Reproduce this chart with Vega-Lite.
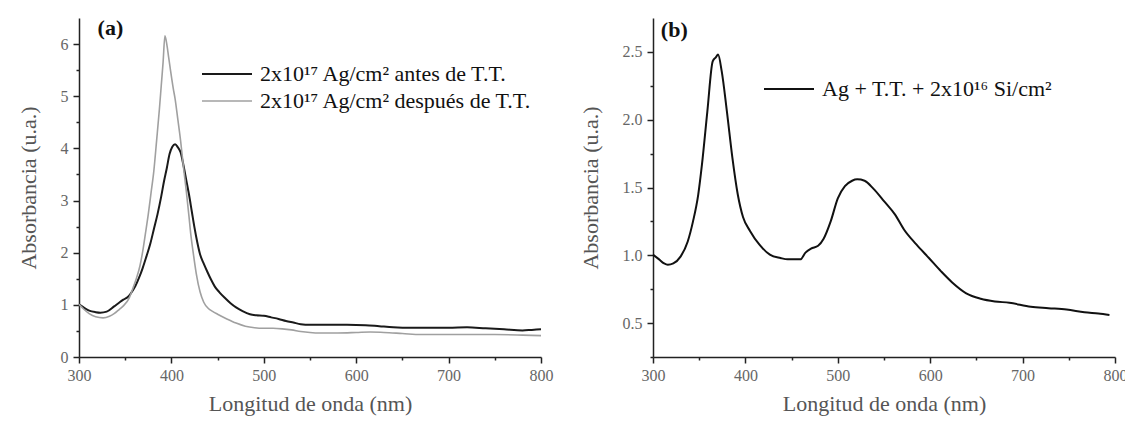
{
  "$schema": "https://vega.github.io/schema/vega-lite/v6.json",
  "padding": {"left": 17, "top": 17, "right": 0, "bottom": 5},
  "spacing": 26,
  "background": "white",
  "config": {
    "view": {"stroke": null},
    "font": "Liberation Serif",
    "axis": {
      "grid": false,
      "domainColor": "#222",
      "domainWidth": 1.5,
      "tickColor": "#222",
      "tickWidth": 1.5,
      "tickCount": 40,
      "labelFont": "Liberation Serif",
      "labelFontSize": 16,
      "labelColor": "#666",
      "labelPadding": 5,
      "labelFlush": false,
      "labelOverlap": false,
      "titleFont": "Liberation Serif",
      "titleFontSize": 22,
      "titleFontWeight": "normal",
      "titleColor": "#555",
      "titlePadding": 20
    },
    "axisX": {"titlePadding": 10, "labelPadding": 4},
    "legend": {
      "orient": "none",
      "title": null,
      "padding": 0,
      "labelFont": "Liberation Serif",
      "labelFontSize": 22,
      "labelLimit": 0,
      "labelColor": "#111",
      "symbolType": "M-5,0H5",
      "symbolSize": 100,
      "symbolStrokeWidth": 2,
      "symbolFillColor": "transparent",
      "rowPadding": 5
    }
  },
  "datasets": {
    "a": [
      {"serie": "2x10¹⁷ Ag/cm² antes de T.T.", "nm": 300, "abs": 1.01},
      {"serie": "2x10¹⁷ Ag/cm² antes de T.T.", "nm": 305, "abs": 0.95},
      {"serie": "2x10¹⁷ Ag/cm² antes de T.T.", "nm": 311, "abs": 0.89},
      {"serie": "2x10¹⁷ Ag/cm² antes de T.T.", "nm": 318, "abs": 0.86},
      {"serie": "2x10¹⁷ Ag/cm² antes de T.T.", "nm": 323, "abs": 0.85},
      {"serie": "2x10¹⁷ Ag/cm² antes de T.T.", "nm": 330, "abs": 0.87},
      {"serie": "2x10¹⁷ Ag/cm² antes de T.T.", "nm": 338, "abs": 0.97},
      {"serie": "2x10¹⁷ Ag/cm² antes de T.T.", "nm": 344, "abs": 1.05},
      {"serie": "2x10¹⁷ Ag/cm² antes de T.T.", "nm": 348, "abs": 1.10},
      {"serie": "2x10¹⁷ Ag/cm² antes de T.T.", "nm": 354, "abs": 1.17},
      {"serie": "2x10¹⁷ Ag/cm² antes de T.T.", "nm": 358, "abs": 1.27},
      {"serie": "2x10¹⁷ Ag/cm² antes de T.T.", "nm": 361, "abs": 1.36},
      {"serie": "2x10¹⁷ Ag/cm² antes de T.T.", "nm": 365, "abs": 1.52},
      {"serie": "2x10¹⁷ Ag/cm² antes de T.T.", "nm": 369, "abs": 1.71},
      {"serie": "2x10¹⁷ Ag/cm² antes de T.T.", "nm": 373, "abs": 1.93},
      {"serie": "2x10¹⁷ Ag/cm² antes de T.T.", "nm": 377, "abs": 2.16},
      {"serie": "2x10¹⁷ Ag/cm² antes de T.T.", "nm": 381, "abs": 2.45},
      {"serie": "2x10¹⁷ Ag/cm² antes de T.T.", "nm": 385, "abs": 2.74},
      {"serie": "2x10¹⁷ Ag/cm² antes de T.T.", "nm": 389, "abs": 3.08},
      {"serie": "2x10¹⁷ Ag/cm² antes de T.T.", "nm": 392, "abs": 3.37},
      {"serie": "2x10¹⁷ Ag/cm² antes de T.T.", "nm": 395, "abs": 3.62},
      {"serie": "2x10¹⁷ Ag/cm² antes de T.T.", "nm": 398, "abs": 3.89},
      {"serie": "2x10¹⁷ Ag/cm² antes de T.T.", "nm": 401, "abs": 4.03},
      {"serie": "2x10¹⁷ Ag/cm² antes de T.T.", "nm": 404, "abs": 4.08},
      {"serie": "2x10¹⁷ Ag/cm² antes de T.T.", "nm": 407, "abs": 4.02},
      {"serie": "2x10¹⁷ Ag/cm² antes de T.T.", "nm": 410, "abs": 3.92},
      {"serie": "2x10¹⁷ Ag/cm² antes de T.T.", "nm": 413, "abs": 3.68},
      {"serie": "2x10¹⁷ Ag/cm² antes de T.T.", "nm": 416, "abs": 3.40},
      {"serie": "2x10¹⁷ Ag/cm² antes de T.T.", "nm": 419, "abs": 3.12},
      {"serie": "2x10¹⁷ Ag/cm² antes de T.T.", "nm": 422, "abs": 2.80},
      {"serie": "2x10¹⁷ Ag/cm² antes de T.T.", "nm": 425, "abs": 2.48},
      {"serie": "2x10¹⁷ Ag/cm² antes de T.T.", "nm": 428, "abs": 2.20},
      {"serie": "2x10¹⁷ Ag/cm² antes de T.T.", "nm": 431, "abs": 1.97},
      {"serie": "2x10¹⁷ Ag/cm² antes de T.T.", "nm": 435, "abs": 1.79},
      {"serie": "2x10¹⁷ Ag/cm² antes de T.T.", "nm": 439, "abs": 1.63},
      {"serie": "2x10¹⁷ Ag/cm² antes de T.T.", "nm": 443, "abs": 1.48},
      {"serie": "2x10¹⁷ Ag/cm² antes de T.T.", "nm": 447, "abs": 1.35},
      {"serie": "2x10¹⁷ Ag/cm² antes de T.T.", "nm": 452, "abs": 1.24},
      {"serie": "2x10¹⁷ Ag/cm² antes de T.T.", "nm": 458, "abs": 1.13},
      {"serie": "2x10¹⁷ Ag/cm² antes de T.T.", "nm": 464, "abs": 1.03},
      {"serie": "2x10¹⁷ Ag/cm² antes de T.T.", "nm": 470, "abs": 0.95},
      {"serie": "2x10¹⁷ Ag/cm² antes de T.T.", "nm": 477, "abs": 0.88},
      {"serie": "2x10¹⁷ Ag/cm² antes de T.T.", "nm": 485, "abs": 0.82},
      {"serie": "2x10¹⁷ Ag/cm² antes de T.T.", "nm": 492, "abs": 0.80},
      {"serie": "2x10¹⁷ Ag/cm² antes de T.T.", "nm": 500, "abs": 0.79},
      {"serie": "2x10¹⁷ Ag/cm² antes de T.T.", "nm": 508, "abs": 0.76},
      {"serie": "2x10¹⁷ Ag/cm² antes de T.T.", "nm": 516, "abs": 0.73},
      {"serie": "2x10¹⁷ Ag/cm² antes de T.T.", "nm": 524, "abs": 0.69},
      {"serie": "2x10¹⁷ Ag/cm² antes de T.T.", "nm": 532, "abs": 0.66},
      {"serie": "2x10¹⁷ Ag/cm² antes de T.T.", "nm": 540, "abs": 0.63},
      {"serie": "2x10¹⁷ Ag/cm² antes de T.T.", "nm": 550, "abs": 0.62},
      {"serie": "2x10¹⁷ Ag/cm² antes de T.T.", "nm": 570, "abs": 0.62},
      {"serie": "2x10¹⁷ Ag/cm² antes de T.T.", "nm": 590, "abs": 0.62},
      {"serie": "2x10¹⁷ Ag/cm² antes de T.T.", "nm": 610, "abs": 0.61},
      {"serie": "2x10¹⁷ Ag/cm² antes de T.T.", "nm": 625, "abs": 0.59},
      {"serie": "2x10¹⁷ Ag/cm² antes de T.T.", "nm": 640, "abs": 0.57},
      {"serie": "2x10¹⁷ Ag/cm² antes de T.T.", "nm": 660, "abs": 0.56},
      {"serie": "2x10¹⁷ Ag/cm² antes de T.T.", "nm": 680, "abs": 0.56},
      {"serie": "2x10¹⁷ Ag/cm² antes de T.T.", "nm": 700, "abs": 0.56},
      {"serie": "2x10¹⁷ Ag/cm² antes de T.T.", "nm": 720, "abs": 0.57},
      {"serie": "2x10¹⁷ Ag/cm² antes de T.T.", "nm": 740, "abs": 0.55},
      {"serie": "2x10¹⁷ Ag/cm² antes de T.T.", "nm": 760, "abs": 0.53},
      {"serie": "2x10¹⁷ Ag/cm² antes de T.T.", "nm": 780, "abs": 0.51},
      {"serie": "2x10¹⁷ Ag/cm² antes de T.T.", "nm": 790, "abs": 0.52},
      {"serie": "2x10¹⁷ Ag/cm² antes de T.T.", "nm": 800, "abs": 0.53},
      {"serie": "2x10¹⁷ Ag/cm² después de T.T.", "nm": 300, "abs": 1.01},
      {"serie": "2x10¹⁷ Ag/cm² después de T.T.", "nm": 305, "abs": 0.92},
      {"serie": "2x10¹⁷ Ag/cm² después de T.T.", "nm": 311, "abs": 0.83},
      {"serie": "2x10¹⁷ Ag/cm² después de T.T.", "nm": 318, "abs": 0.77},
      {"serie": "2x10¹⁷ Ag/cm² después de T.T.", "nm": 326, "abs": 0.75},
      {"serie": "2x10¹⁷ Ag/cm² después de T.T.", "nm": 333, "abs": 0.78},
      {"serie": "2x10¹⁷ Ag/cm² después de T.T.", "nm": 338, "abs": 0.83},
      {"serie": "2x10¹⁷ Ag/cm² después de T.T.", "nm": 344, "abs": 0.92},
      {"serie": "2x10¹⁷ Ag/cm² después de T.T.", "nm": 348, "abs": 0.98},
      {"serie": "2x10¹⁷ Ag/cm² después de T.T.", "nm": 354, "abs": 1.12},
      {"serie": "2x10¹⁷ Ag/cm² después de T.T.", "nm": 358, "abs": 1.30},
      {"serie": "2x10¹⁷ Ag/cm² después de T.T.", "nm": 362, "abs": 1.50},
      {"serie": "2x10¹⁷ Ag/cm² después de T.T.", "nm": 366, "abs": 1.75},
      {"serie": "2x10¹⁷ Ag/cm² después de T.T.", "nm": 369, "abs": 2.03},
      {"serie": "2x10¹⁷ Ag/cm² después de T.T.", "nm": 372, "abs": 2.38},
      {"serie": "2x10¹⁷ Ag/cm² después de T.T.", "nm": 375, "abs": 2.74},
      {"serie": "2x10¹⁷ Ag/cm² después de T.T.", "nm": 378, "abs": 3.15},
      {"serie": "2x10¹⁷ Ag/cm² después de T.T.", "nm": 381, "abs": 3.57},
      {"serie": "2x10¹⁷ Ag/cm² después de T.T.", "nm": 384, "abs": 4.15},
      {"serie": "2x10¹⁷ Ag/cm² después de T.T.", "nm": 387, "abs": 4.75},
      {"serie": "2x10¹⁷ Ag/cm² después de T.T.", "nm": 389, "abs": 5.20},
      {"serie": "2x10¹⁷ Ag/cm² después de T.T.", "nm": 391, "abs": 5.65},
      {"serie": "2x10¹⁷ Ag/cm² después de T.T.", "nm": 393, "abs": 6.16},
      {"serie": "2x10¹⁷ Ag/cm² después de T.T.", "nm": 395, "abs": 6.00},
      {"serie": "2x10¹⁷ Ag/cm² después de T.T.", "nm": 397, "abs": 5.75},
      {"serie": "2x10¹⁷ Ag/cm² después de T.T.", "nm": 399, "abs": 5.50},
      {"serie": "2x10¹⁷ Ag/cm² después de T.T.", "nm": 402, "abs": 5.15},
      {"serie": "2x10¹⁷ Ag/cm² después de T.T.", "nm": 404, "abs": 4.95},
      {"serie": "2x10¹⁷ Ag/cm² después de T.T.", "nm": 407, "abs": 4.55},
      {"serie": "2x10¹⁷ Ag/cm² después de T.T.", "nm": 410, "abs": 4.14},
      {"serie": "2x10¹⁷ Ag/cm² después de T.T.", "nm": 413, "abs": 3.65},
      {"serie": "2x10¹⁷ Ag/cm² después de T.T.", "nm": 416, "abs": 3.20},
      {"serie": "2x10¹⁷ Ag/cm² después de T.T.", "nm": 419, "abs": 2.70},
      {"serie": "2x10¹⁷ Ag/cm² después de T.T.", "nm": 421, "abs": 2.35},
      {"serie": "2x10¹⁷ Ag/cm² después de T.T.", "nm": 424, "abs": 1.95},
      {"serie": "2x10¹⁷ Ag/cm² después de T.T.", "nm": 427, "abs": 1.59},
      {"serie": "2x10¹⁷ Ag/cm² después de T.T.", "nm": 431, "abs": 1.25},
      {"serie": "2x10¹⁷ Ag/cm² después de T.T.", "nm": 435, "abs": 1.05},
      {"serie": "2x10¹⁷ Ag/cm² después de T.T.", "nm": 440, "abs": 0.93},
      {"serie": "2x10¹⁷ Ag/cm² después de T.T.", "nm": 445, "abs": 0.87},
      {"serie": "2x10¹⁷ Ag/cm² después de T.T.", "nm": 450, "abs": 0.82},
      {"serie": "2x10¹⁷ Ag/cm² después de T.T.", "nm": 460, "abs": 0.73},
      {"serie": "2x10¹⁷ Ag/cm² después de T.T.", "nm": 470, "abs": 0.65},
      {"serie": "2x10¹⁷ Ag/cm² después de T.T.", "nm": 480, "abs": 0.59},
      {"serie": "2x10¹⁷ Ag/cm² después de T.T.", "nm": 490, "abs": 0.56},
      {"serie": "2x10¹⁷ Ag/cm² después de T.T.", "nm": 500, "abs": 0.55},
      {"serie": "2x10¹⁷ Ag/cm² después de T.T.", "nm": 510, "abs": 0.55},
      {"serie": "2x10¹⁷ Ag/cm² después de T.T.", "nm": 520, "abs": 0.54},
      {"serie": "2x10¹⁷ Ag/cm² después de T.T.", "nm": 530, "abs": 0.52},
      {"serie": "2x10¹⁷ Ag/cm² después de T.T.", "nm": 540, "abs": 0.49},
      {"serie": "2x10¹⁷ Ag/cm² después de T.T.", "nm": 550, "abs": 0.47},
      {"serie": "2x10¹⁷ Ag/cm² después de T.T.", "nm": 560, "abs": 0.46},
      {"serie": "2x10¹⁷ Ag/cm² después de T.T.", "nm": 580, "abs": 0.46},
      {"serie": "2x10¹⁷ Ag/cm² después de T.T.", "nm": 600, "abs": 0.47},
      {"serie": "2x10¹⁷ Ag/cm² después de T.T.", "nm": 615, "abs": 0.48},
      {"serie": "2x10¹⁷ Ag/cm² después de T.T.", "nm": 630, "abs": 0.47},
      {"serie": "2x10¹⁷ Ag/cm² después de T.T.", "nm": 650, "abs": 0.45},
      {"serie": "2x10¹⁷ Ag/cm² después de T.T.", "nm": 670, "abs": 0.43},
      {"serie": "2x10¹⁷ Ag/cm² después de T.T.", "nm": 700, "abs": 0.43},
      {"serie": "2x10¹⁷ Ag/cm² después de T.T.", "nm": 750, "abs": 0.43},
      {"serie": "2x10¹⁷ Ag/cm² después de T.T.", "nm": 780, "abs": 0.42},
      {"serie": "2x10¹⁷ Ag/cm² después de T.T.", "nm": 800, "abs": 0.41}
    ],
    "b": [
      {"serie": "Ag + T.T. + 2x10¹⁶ Si/cm²", "nm": 300, "abs": 1.005},
      {"serie": "Ag + T.T. + 2x10¹⁶ Si/cm²", "nm": 306.6, "abs": 0.97},
      {"serie": "Ag + T.T. + 2x10¹⁶ Si/cm²", "nm": 312, "abs": 0.94},
      {"serie": "Ag + T.T. + 2x10¹⁶ Si/cm²", "nm": 316, "abs": 0.93},
      {"serie": "Ag + T.T. + 2x10¹⁶ Si/cm²", "nm": 322, "abs": 0.94},
      {"serie": "Ag + T.T. + 2x10¹⁶ Si/cm²", "nm": 329.8, "abs": 0.99},
      {"serie": "Ag + T.T. + 2x10¹⁶ Si/cm²", "nm": 337.5, "abs": 1.10},
      {"serie": "Ag + T.T. + 2x10¹⁶ Si/cm²", "nm": 343.3, "abs": 1.25},
      {"serie": "Ag + T.T. + 2x10¹⁶ Si/cm²", "nm": 349, "abs": 1.45},
      {"serie": "Ag + T.T. + 2x10¹⁶ Si/cm²", "nm": 353, "abs": 1.67},
      {"serie": "Ag + T.T. + 2x10¹⁶ Si/cm²", "nm": 358.8, "abs": 2.06},
      {"serie": "Ag + T.T. + 2x10¹⁶ Si/cm²", "nm": 364.6, "abs": 2.43},
      {"serie": "Ag + T.T. + 2x10¹⁶ Si/cm²", "nm": 368, "abs": 2.46},
      {"serie": "Ag + T.T. + 2x10¹⁶ Si/cm²", "nm": 370.4, "abs": 2.48},
      {"serie": "Ag + T.T. + 2x10¹⁶ Si/cm²", "nm": 374.3, "abs": 2.36},
      {"serie": "Ag + T.T. + 2x10¹⁶ Si/cm²", "nm": 380, "abs": 2.06},
      {"serie": "Ag + T.T. + 2x10¹⁶ Si/cm²", "nm": 385.9, "abs": 1.72},
      {"serie": "Ag + T.T. + 2x10¹⁶ Si/cm²", "nm": 391.7, "abs": 1.45},
      {"serie": "Ag + T.T. + 2x10¹⁶ Si/cm²", "nm": 397.5, "abs": 1.28},
      {"serie": "Ag + T.T. + 2x10¹⁶ Si/cm²", "nm": 405, "abs": 1.18},
      {"serie": "Ag + T.T. + 2x10¹⁶ Si/cm²", "nm": 415, "abs": 1.08},
      {"serie": "Ag + T.T. + 2x10¹⁶ Si/cm²", "nm": 426.5, "abs": 1.005},
      {"serie": "Ag + T.T. + 2x10¹⁶ Si/cm²", "nm": 438, "abs": 0.98},
      {"serie": "Ag + T.T. + 2x10¹⁶ Si/cm²", "nm": 445.8, "abs": 0.97},
      {"serie": "Ag + T.T. + 2x10¹⁶ Si/cm²", "nm": 459.4, "abs": 0.97},
      {"serie": "Ag + T.T. + 2x10¹⁶ Si/cm²", "nm": 465, "abs": 1.02},
      {"serie": "Ag + T.T. + 2x10¹⁶ Si/cm²", "nm": 471, "abs": 1.05},
      {"serie": "Ag + T.T. + 2x10¹⁶ Si/cm²", "nm": 478.7, "abs": 1.07},
      {"serie": "Ag + T.T. + 2x10¹⁶ Si/cm²", "nm": 484.5, "abs": 1.12},
      {"serie": "Ag + T.T. + 2x10¹⁶ Si/cm²", "nm": 492.3, "abs": 1.25},
      {"serie": "Ag + T.T. + 2x10¹⁶ Si/cm²", "nm": 500, "abs": 1.42},
      {"serie": "Ag + T.T. + 2x10¹⁶ Si/cm²", "nm": 507.7, "abs": 1.51},
      {"serie": "Ag + T.T. + 2x10¹⁶ Si/cm²", "nm": 515.5, "abs": 1.55},
      {"serie": "Ag + T.T. + 2x10¹⁶ Si/cm²", "nm": 521, "abs": 1.56},
      {"serie": "Ag + T.T. + 2x10¹⁶ Si/cm²", "nm": 529, "abs": 1.55},
      {"serie": "Ag + T.T. + 2x10¹⁶ Si/cm²", "nm": 538.7, "abs": 1.49},
      {"serie": "Ag + T.T. + 2x10¹⁶ Si/cm²", "nm": 550, "abs": 1.40},
      {"serie": "Ag + T.T. + 2x10¹⁶ Si/cm²", "nm": 562, "abs": 1.30},
      {"serie": "Ag + T.T. + 2x10¹⁶ Si/cm²", "nm": 571.6, "abs": 1.19},
      {"serie": "Ag + T.T. + 2x10¹⁶ Si/cm²", "nm": 585, "abs": 1.08},
      {"serie": "Ag + T.T. + 2x10¹⁶ Si/cm²", "nm": 598.6, "abs": 0.98},
      {"serie": "Ag + T.T. + 2x10¹⁶ Si/cm²", "nm": 612, "abs": 0.88},
      {"serie": "Ag + T.T. + 2x10¹⁶ Si/cm²", "nm": 623.8, "abs": 0.80},
      {"serie": "Ag + T.T. + 2x10¹⁶ Si/cm²", "nm": 639, "abs": 0.72},
      {"serie": "Ag + T.T. + 2x10¹⁶ Si/cm²", "nm": 654.7, "abs": 0.68},
      {"serie": "Ag + T.T. + 2x10¹⁶ Si/cm²", "nm": 670, "abs": 0.66},
      {"serie": "Ag + T.T. + 2x10¹⁶ Si/cm²", "nm": 685.7, "abs": 0.65},
      {"serie": "Ag + T.T. + 2x10¹⁶ Si/cm²", "nm": 708.9, "abs": 0.62},
      {"serie": "Ag + T.T. + 2x10¹⁶ Si/cm²", "nm": 728, "abs": 0.61},
      {"serie": "Ag + T.T. + 2x10¹⁶ Si/cm²", "nm": 747.6, "abs": 0.60},
      {"serie": "Ag + T.T. + 2x10¹⁶ Si/cm²", "nm": 766.9, "abs": 0.58},
      {"serie": "Ag + T.T. + 2x10¹⁶ Si/cm²", "nm": 782, "abs": 0.57},
      {"serie": "Ag + T.T. + 2x10¹⁶ Si/cm²", "nm": 794, "abs": 0.56}
    ]
  },
  "hconcat": [
    {
      "width": 462,
      "height": 339,
      "layer": [
        {
          "data": {"name": "a"},
          "mark": {"type": "line", "interpolate": "monotone"},
          "encoding": {
            "x": {
              "field": "nm", "type": "quantitative",
              "scale": {"domain": [300, 800], "nice": false},
              "axis": {
                "title": "Longitud de onda (nm)",
                "values": [300, 350, 400, 450, 500, 550, 600, 650, 700, 750, 800],
                "labelExpr": "datum.value % 100 === 0 ? format(datum.value, 'd') : ''",
                "tickSize": {"condition": {"test": "datum.value % 100 === 0", "value": 6}, "value": 3}
              }
            },
            "y": {
              "field": "abs", "type": "quantitative",
              "scale": {"domain": [0, 6.5], "nice": false, "zero": false},
              "axis": {
                "title": "Absorbancia (u.a.)",
                "values": [0, 0.5, 1, 1.5, 2, 2.5, 3, 3.5, 4, 4.5, 5, 5.5, 6],
                "labelExpr": "datum.value % 1 === 0 ? format(datum.value, 'd') : ''",
                "tickSize": {"condition": {"test": "datum.value % 1 === 0", "value": 6}, "value": 3}
              }
            },
            "color": {
              "field": "serie", "type": "nominal",
              "scale": {
                "domain": ["2x10¹⁷ Ag/cm² antes de T.T.", "2x10¹⁷ Ag/cm² después de T.T."],
                "range": ["#1a1a1a", "#a0a0a0"]
              },
              "legend": {"legendX": 137, "legendY": 45, "labelOffset": 22}
            },
            "strokeWidth": {
              "field": "serie", "type": "nominal",
              "scale": {
                "domain": ["2x10¹⁷ Ag/cm² antes de T.T.", "2x10¹⁷ Ag/cm² después de T.T."],
                "range": [2, 1.6]
              },
              "legend": null
            }
          }
        },
        {
          "data": {"values": [{}]},
          "mark": {"type": "text", "font": "Liberation Serif", "fontSize": 22, "fontWeight": "bold", "color": "#111"},
          "encoding": {
            "x": {"datum": 334},
            "y": {"datum": 6.3},
            "text": {"value": "(a)"}
          }
        }
      ]
    },
    {
      "width": 462,
      "height": 339,
      "layer": [
        {
          "data": {"name": "b"},
          "mark": {"type": "line", "interpolate": "monotone", "strokeWidth": 2},
          "encoding": {
            "x": {
              "field": "nm", "type": "quantitative",
              "scale": {"domain": [300, 800], "nice": false},
              "axis": {
                "title": "Longitud de onda (nm)",
                "values": [300, 350, 400, 450, 500, 550, 600, 650, 700, 750, 800],
                "labelExpr": "datum.value % 100 === 0 ? format(datum.value, 'd') : ''",
                "tickSize": {"condition": {"test": "datum.value % 100 === 0", "value": 6}, "value": 3}
              }
            },
            "y": {
              "field": "abs", "type": "quantitative",
              "scale": {"domain": [0.25, 2.75], "nice": false, "zero": false},
              "axis": {
                "title": "Absorbancia (u.a.)",
                "values": [0.25, 0.5, 0.75, 1, 1.25, 1.5, 1.75, 2, 2.25, 2.5],
                "labelExpr": "round(datum.value * 4) % 2 === 0 ? format(datum.value, '.1f') : ''",
                "tickSize": {"condition": {"test": "round(datum.value * 4) % 2 === 0", "value": 6}, "value": 3}
              }
            },
            "color": {
              "field": "serie", "type": "nominal",
              "scale": {"range": ["#111111"]},
              "legend": {"legendX": 125, "legendY": 60, "labelOffset": 22}
            }
          }
        },
        {
          "data": {"values": [{}]},
          "mark": {"type": "text", "font": "Liberation Serif", "fontSize": 22, "fontWeight": "bold", "color": "#111"},
          "encoding": {
            "x": {"datum": 323},
            "y": {"datum": 2.66},
            "text": {"value": "(b)"}
          }
        }
      ]
    }
  ],
  "resolve": {"scale": {"color": "independent", "strokeWidth": "independent"}, "legend": {"color": "independent"}}
}
